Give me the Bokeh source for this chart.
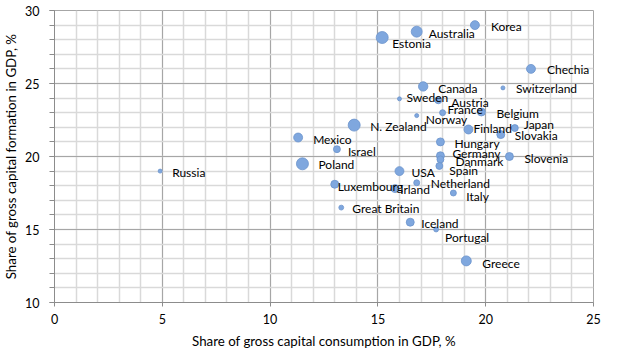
from bokeh.plotting import figure
from bokeh.models import ColumnDataSource, Range1d, SingleIntervalTicker
from bokeh.core.properties import value
from bokeh.embed import file_html
from bokeh.resources import INLINE
import math

countries = ["Korea", "Australia", "Estonia", "Chechia", "Canada", "Switzerland",
             "Sweden", "Austria", "France", "Belgium", "Norway", "N. Zealand",
             "Finland", "Japan", "Slovakia", "Mexico", "Poland", "Israel",
             "Hungary", "Germany", "Danmark", "Slovenia", "Spain", "USA",
             "Russia", "Luxembourg", "Irland", "Netherland", "Italy",
             "Great Britain", "Iceland", "Portugal", "Greece"]
consumption = [19.5, 16.8, 15.2, 22.1, 17.1, 20.8,
               16.0, 17.8, 18.0, 19.8, 16.8, 13.9,
               19.2, 21.35, 20.7, 11.3, 11.5, 13.1,
               17.9, 17.9, 17.9, 21.1, 17.85, 16.0,
               4.9, 13.0, 15.8, 16.8, 18.5,
               13.3, 16.5, 17.7, 19.1]
formation = [29.0, 28.55, 28.15, 26.0, 24.8, 24.7,
             23.95, 23.85, 23.0, 23.05, 22.8, 22.15,
             21.85, 21.95, 21.5, 21.3, 19.5, 20.5,
             21.0, 20.05, 19.8, 20.0, 19.35, 19.0,
             19.0, 18.1, 17.8, 18.2, 17.5,
             16.5, 15.5, 15.0, 12.85]
bubble = [20, 30, 36, 20, 22, 4,
          4, 12, 9, 16, 4, 36,
          20, 12, 16, 20, 36, 12,
          16, 16, 12, 16, 12, 20,
          4, 16, 16, 9, 9,
          6, 16, 6, 25]

# label placement offsets (screen px), style only
label_dx = [16, 12, 10, 16, 15, 13, 7, 13, 5, 15, 9, 16,
            5, 9, 14, 15, 16, 11, 14, 12, 15, 15, 10, 12,
            12, 3, 5, 14, 13, 11, 11, 9, 16]
label_dy = [1, 2, 6, 1, 2, 1, -1, 2, -3, 2, 4, 1,
            -1, -4, 1, 2, 1, 2, 2, -2, 2, 2, 5, 1,
            1, 2, 1, 1, 3, 1, 1, 8, 3]

sizes = [2.0 * math.sqrt(b) for b in bubble]

src = ColumnDataSource(dict(x=consumption, y=formation, name=countries,
                            size=sizes, dx=label_dx, dy=label_dy))

FONT = "Lato"

p = figure(width=603, height=351, output_backend="svg", toolbar_location=None,
           x_range=Range1d(0, 25), y_range=Range1d(10, 30),
           min_border_left=50, min_border_right=10, min_border_top=10,
           min_border_bottom=41)
p.background_fill_color = "white"
p.border_fill_color = "white"
p.outline_line_color = "#a6a6a6"
p.outline_line_width = 1

xt = SingleIntervalTicker(interval=5, num_minor_ticks=5)
yt = SingleIntervalTicker(interval=5, num_minor_ticks=5)
p.xaxis.ticker = xt
p.yaxis.ticker = yt
p.xgrid.ticker = xt
p.ygrid.ticker = yt

for g in (p.xgrid, p.ygrid):
    g.grid_line_color = "#a6a6a6"
    g.grid_line_width = 1
    g.minor_grid_line_color = "#d9d9d9"
    g.minor_grid_line_width = 1.5

for ax in (p.xaxis, p.yaxis):
    ax.axis_line_color = "#8c8c8c"
    ax.major_tick_line_color = "#8c8c8c"
    ax.minor_tick_line_color = "#8c8c8c"
    ax.major_label_text_font = FONT
    ax.major_label_text_font_size = "12.5px"
    ax.major_label_text_color = "#000000"
    ax.axis_label_text_font = FONT
    ax.axis_label_text_font_size = "13.3px"
    ax.axis_label_text_font_style = "normal"
    ax.axis_label_text_color = "#000000"

p.xaxis.major_tick_in = 0
p.xaxis.major_tick_out = 4
p.xaxis.minor_tick_in = 0
p.xaxis.minor_tick_out = 0
p.xaxis.major_label_standoff = 7
p.xaxis.axis_label_standoff = 6
p.xaxis.axis_label = "Share of gross capital consumption in GDP, %"

p.yaxis.major_tick_in = 0
p.yaxis.major_tick_out = 5
p.yaxis.minor_tick_in = 0
p.yaxis.minor_tick_out = 5
p.yaxis.major_label_standoff = 10
p.yaxis.axis_label_standoff = 3
p.yaxis.axis_label = "Share of gross capital formation in GDP, %"

p.scatter("x", "y", size="size", source=src, marker="circle",
          fill_color="#7fa7de", line_color="#6b93cc", line_width=0.8)

p.text("x", "y", text="name", source=src, x_offset="dx", y_offset="dy",
       text_align="left", text_baseline="middle",
       text_font=value(FONT), text_font_size="12px", text_color="#000000")

open("out.html", "w").write(file_html(p, INLINE))
